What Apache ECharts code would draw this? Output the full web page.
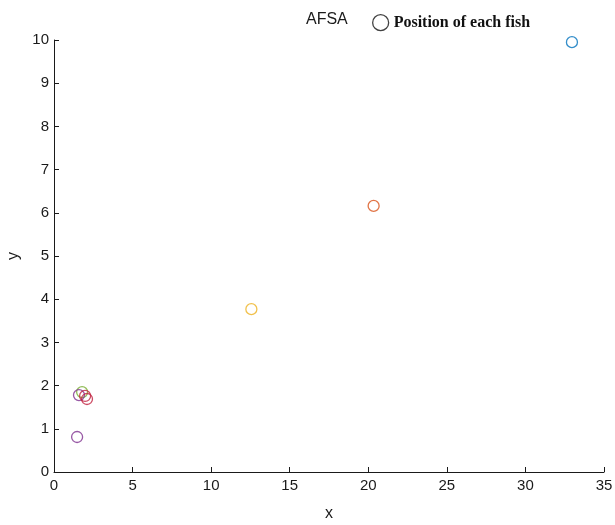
<!DOCTYPE html>
<html>
<head>
<meta charset="utf-8">
<script src="https://cdn.jsdelivr.net/npm/echarts@6/dist/echarts.min.js"></script>
<style>html,body{margin:0;padding:0;background:#fff;}#c{width:615px;height:525px;}</style>
</head>
<body>
<div id="c"></div>
<script>
// Fish positions
const fishX = [32.96, 20.34, 12.56, 1.47, 1.79, 1.59, 1.98, 2.10];
const fishY = [9.95, 6.16, 3.77, 0.81, 1.85, 1.78, 1.76, 1.69];
const fishColors = ['#0072BD', '#D95319', '#EDB120', '#7E2F8E', '#77AC30', '#7E2F8E', '#C0203F', '#C0203F'];
const xTicks = [0, 5, 10, 15, 20, 25, 30, 35];
const yTicks = [0, 1, 2, 3, 4, 5, 6, 7, 8, 9, 10];

const chart = echarts.init(document.getElementById('c'), null, {renderer: 'canvas'});
const axisColor = '#1a1a1a';
const tickFont = {fontFamily: 'Liberation Sans, Arial, sans-serif', fontSize: 15, color: axisColor};

chart.setOption({
  animation: false,
  backgroundColor: '#fff',
  grid: {left: 54, right: 11, top: 40, bottom: 53, containLabel: false, outerBoundsMode: 'none'},
  graphic: [{
    type: 'text', left: 306, top: 12,
    style: {text: 'AFSA', font: '16px Liberation Sans, Arial, sans-serif', fill: axisColor}
  }],
  legend: {
    left: 367, top: 9,
    data: ['Position of each fish'],
    icon: 'circle',
    itemWidth: 16, itemHeight: 16, itemGap: 6,
    itemStyle: {color: 'rgba(0,0,0,0)', borderColor: '#111', borderWidth: 1.3},
    textStyle: {fontFamily: 'Liberation Serif, Times New Roman, serif', fontWeight: 'bold', fontSize: 16, color: '#111'}
  },
  xAxis: {
    type: 'value', min: xTicks[0], max: xTicks[xTicks.length - 1], interval: 5,
    name: 'x', nameLocation: 'middle', nameGap: 34,
    nameTextStyle: {fontFamily: 'Liberation Sans, Arial, sans-serif', fontSize: 16, color: axisColor},
    axisLine: {show: true, lineStyle: {color: axisColor, width: 1}},
    axisTick: {show: true, inside: true, length: 5, lineStyle: {color: axisColor}},
    axisLabel: Object.assign({margin: 6}, tickFont),
    splitLine: {show: false}
  },
  yAxis: {
    type: 'value', min: yTicks[0], max: yTicks[yTicks.length - 1], interval: 1,
    name: 'y', nameLocation: 'middle', nameGap: 31,
    nameTextStyle: {fontFamily: 'Liberation Sans, Arial, sans-serif', fontSize: 16, color: axisColor},
    axisLine: {show: true, lineStyle: {color: axisColor, width: 1}},
    axisTick: {show: true, inside: true, length: 5, lineStyle: {color: axisColor}},
    axisLabel: Object.assign({margin: 5}, tickFont),
    splitLine: {show: false}
  },
  series: [{
    name: 'Position of each fish',
    type: 'scatter',
    symbol: 'circle',
    symbolSize: 11,
    itemStyle: {color: 'rgba(0,0,0,0)', borderColor: '#111', borderWidth: 1.3},
    data: fishX.map((x, i) => ({
      value: [x, fishY[i]],
      itemStyle: {color: 'rgba(0,0,0,0)', borderColor: fishColors[i], borderWidth: 1.3}
    }))
  }]
});
</script>
</body>
</html>
